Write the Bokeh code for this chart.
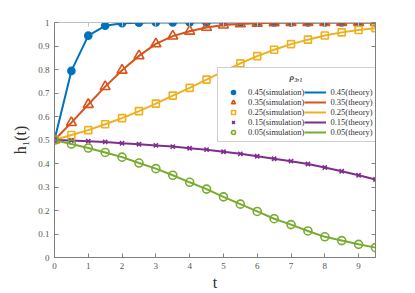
from bokeh.plotting import figure
from bokeh.models import Range1d, LinearAxis, FixedTicker, Legend, LegendItem, Label
from bokeh.embed import file_html
from bokeh.resources import INLINE

# time in units of 1e-5
t = [0, 0.5, 1, 1.5, 2, 2.5, 3, 3.5, 4, 4.5, 5, 5.5, 6, 6.5, 7, 7.5, 8, 8.5, 9, 9.5]
rho_labels = ["0.45", "0.35", "0.25", "0.15", "0.05"]
h045 = [0.5, 0.794, 0.944, 0.986, 0.997, 0.999, 1.0, 1.0, 1.0, 1.0, 1.0, 1.0, 1.0, 1.0, 1.0, 1.0, 1.0, 1.0, 1.0, 1.0]
h035 = [0.5, 0.574, 0.651, 0.727, 0.797, 0.858, 0.909, 0.942, 0.963, 0.979, 0.989, 0.994, 0.997, 0.999, 1.0, 1.0, 1.0, 1.0, 1.0, 1.0]
h025 = [0.5, 0.521, 0.542, 0.567, 0.593, 0.623, 0.655, 0.689, 0.722, 0.757, 0.792, 0.826, 0.857, 0.884, 0.908, 0.927, 0.945, 0.958, 0.968, 0.976]
h015 = [0.5, 0.498, 0.495, 0.492, 0.486, 0.482, 0.477, 0.472, 0.465, 0.459, 0.450, 0.441, 0.431, 0.420, 0.410, 0.398, 0.383, 0.367, 0.350, 0.332]
h005 = [0.5, 0.483, 0.466, 0.447, 0.427, 0.402, 0.378, 0.350, 0.320, 0.291, 0.258, 0.227, 0.196, 0.165, 0.140, 0.113, 0.088, 0.072, 0.056, 0.042]
series = [h045, h035, h025, h015, h005]
x_ticks = [0, 1, 2, 3, 4, 5, 6, 7, 8, 9]
y_ticks = [0, 0.1, 0.2, 0.3, 0.4, 0.5, 0.6, 0.7, 0.8, 0.9, 1]

colors = ["#0072BD", "#D95319", "#EDB120", "#7E2F8E", "#77AC30"]
markers = ["circle", "triangle", "square", "x", "circle"]
sizes = [7, 10, 7, 6, 8]
fills = [True, False, False, False, False]

FONT = "Liberation Serif"
AX = "#808080"
TXT = "#555555"

p = figure(width=415, height=293, output_backend="svg", toolbar_location=None,
           x_range=Range1d(0, 9.5), y_range=Range1d(0, 1),
           min_border_left=54, min_border_right=40, min_border_top=22, min_border_bottom=33)
p.outline_line_color = None
p.xgrid.visible = False
p.ygrid.visible = False
p.background_fill_color = "white"

def style_axis(ax, labels=True, color=AX):
    ax.axis_line_color = color
    ax.major_tick_line_color = color
    ax.major_tick_in = 4
    ax.major_tick_out = 0
    ax.minor_tick_line_color = None
    ax.major_label_text_font = FONT
    ax.major_label_text_font_size = "9px"
    ax.major_label_text_color = TXT
    ax.major_label_standoff = 5
    if not labels:
        ax.major_label_text_alpha = 0
        ax.major_label_text_font_size = "1px"
        ax.major_label_standoff = 0

xa = p.xaxis[0]
ya = p.yaxis[0]
xa.ticker = FixedTicker(ticks=x_ticks)
ya.ticker = FixedTicker(ticks=y_ticks)
ya.major_label_overrides = {0: "0", 1: "1"}
style_axis(xa)
style_axis(ya)
xa.axis_label = "t"
ya.axis_label = "h₁(t)"
for ax in (xa, ya):
    ax.axis_label_text_font = FONT
    ax.axis_label_text_font_style = "normal"
    ax.axis_label_text_font_size = "16px"
    ax.axis_label_text_color = "#333333"
xa.axis_label_standoff = 2
ya.axis_label_standoff = 6

top = LinearAxis(ticker=FixedTicker(ticks=x_ticks))
style_axis(top, labels=False, color="#c0c0c0")
right = LinearAxis(ticker=FixedTicker(ticks=y_ticks))
style_axis(right, labels=False)
p.add_layout(top, "above")
p.add_layout(right, "right")

sim_items = []
th_items = []
for lab, ys, c, m, s, f in zip(rho_labels, series, colors, markers, sizes, fills):
    ln = p.line(t, ys, line_color=c, line_width=2)
    sc = p.scatter(t, ys, marker=m, size=s, line_color=c, line_width=1.6,
                   fill_color=c if f else None)
    sim_items.append(LegendItem(label=lab + "(simulation)", renderers=[sc]))
    th_items.append(LegendItem(label=lab + "(theory)", renderers=[ln]))

legend = Legend(items=sim_items + th_items, ncols=2, location=(163, 115),
                title="\u2003\u2003\u2003\u2003\u2003\u2003\u2003\u2002ρ₃,₁", title_text_font=FONT,
                title_text_font_style="bold italic",
                title_text_font_size="9px", title_standoff=5,
                label_text_font=FONT, label_text_font_size="8.5px", label_text_color="#333333",
                label_height=10, glyph_height=10, glyph_width=22, spacing=0, padding=4,
                margin=0, label_standoff=4,
                border_line_color="#a0a0a0", border_line_width=1,
                background_fill_alpha=1)
p.add_layout(legend, "center")

p.add_layout(Label(x=303, y=-25, x_units="screen", y_units="screen", text="×10⁵",
                   text_font=FONT, text_font_size="8px", text_color=TXT))

open("out.html", "w").write(file_html(p, INLINE))
